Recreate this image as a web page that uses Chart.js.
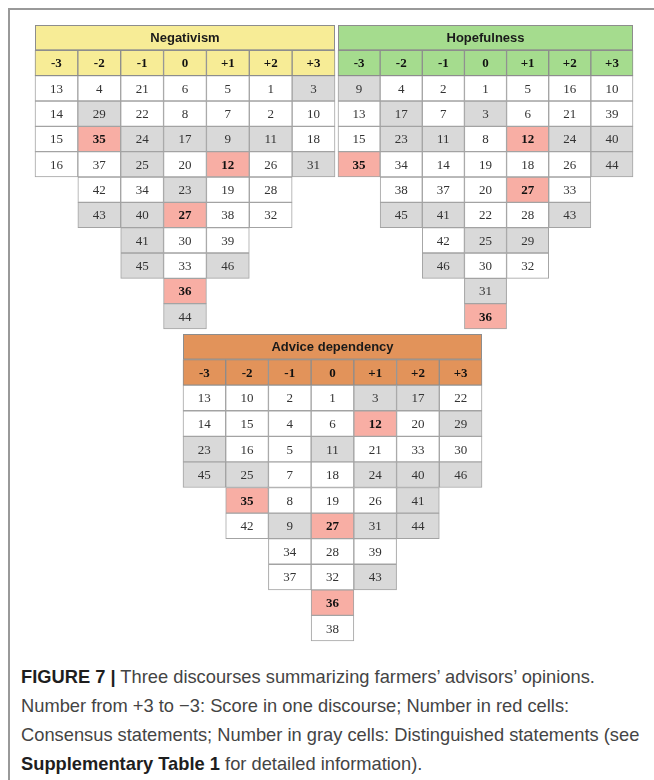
<!DOCTYPE html>
<html>
<head>
<meta charset="utf-8">
<script src="https://cdn.jsdelivr.net/npm/chart.js@4.4.1/dist/chart.umd.min.js"></script>
<style>
  body { margin: 0; background: #fff; }
  #page { position: relative; width: 654px; height: 780px; overflow: hidden; }
  #frame { position: absolute; left: 8px; top: 8px; width: 660px; height: 800px;
           border-left: 2px solid #999; border-top: 2px solid #999; }
  canvas { position: absolute; }
  #caption { position: absolute; left: 21px; top: 662px; width: 660px;
             font-family: "Liberation Sans", Arial, sans-serif; font-size: 19px;
             line-height: 29px; color: #444; white-space: nowrap;
             transform: scaleX(0.963); transform-origin: left top; }
  #caption b { color: #1e1e1e; }
</style>
</head>
<body>
<div id="page">
  <div id="frame"></div>
  <canvas id="neg" width="304" height="308" style="left:33px;top:23px"></canvas>
  <canvas id="hope" width="299" height="308" style="left:336px;top:23px"></canvas>
  <canvas id="advice" width="303" height="311" style="left:181px;top:332px"></canvas>
  <div id="caption">
    <b>FIGURE 7 |</b> Three discourses summarizing farmers’ advisors’ opinions.<br>
    Number from +3 to −3: Score in one discourse; Number in red cells:<br>
    Consensus statements; Number in gray cells: Distinguished statements (see<br>
    <b>Supplementary Table 1</b> for detailed information).
  </div>
</div>
<script>
// score columns
const scores = ["-3", "-2", "-1", "0", "+1", "+2", "+3"]

// statements placed in each column, top to bottom
const negativismCols = [
  [13, 14, 15, 16],
  [4, 29, 35, 37, 42, 43],
  [21, 22, 24, 25, 34, 40, 41, 45],
  [6, 8, 17, 20, 23, 27, 30, 33, 36, 44],
  [5, 7, 9, 12, 19, 38, 39, 46],
  [1, 2, 11, 26, 28, 32],
  [3, 10, 18, 31],
]
const hopefulnessCols = [
  [9, 13, 15, 35],
  [4, 17, 23, 34, 38, 45],
  [2, 7, 11, 14, 37, 41, 42, 46],
  [1, 3, 8, 19, 20, 22, 25, 30, 31, 36],
  [5, 6, 12, 18, 27, 28, 29, 32],
  [16, 21, 24, 26, 33, 43],
  [10, 39, 40, 44],
]
const adviceCols = [
  [13, 14, 23, 45],
  [10, 15, 16, 25, 35, 42],
  [2, 4, 5, 7, 8, 9, 34, 37],
  [1, 6, 11, 18, 19, 27, 28, 32, 36, 38],
  [3, 12, 21, 24, 26, 31, 39, 43],
  [17, 20, 33, 40, 41, 44],
  [22, 29, 30, 46],
]

// consensus statements (red) and distinguished statements (gray)
const consensus = [12, 27, 35, 36]
const negativismGray = [3, 29, 24, 17, 9, 11, 25, 31, 23, 43, 40, 41, 45, 46, 44]
const hopefulnessGray = [9, 17, 3, 23, 11, 24, 40, 44, 45, 41, 43, 25, 29, 46, 31]
const adviceGray = [3, 17, 29, 23, 11, 45, 25, 24, 40, 46, 41, 9, 31, 44, 43]

const RED = "#f8aea4"
const GRAY = "#d9d9d9"
const CELL_BORDER = "#a3a3a3"

// dibuja numeros, titulo y encabezados
const tableText = {
  id: "tableText",
  beforeDatasetsDraw(chart, args, opts) {
    const { ctx } = chart
    const x = chart.scales.x
    const y = chart.scales.y
    const top = y.getPixelForValue(-2)
    const bottom = y.getPixelForValue(-1)
    ctx.save()
    ctx.fillStyle = opts.color
    ctx.fillRect(x.left, top, x.right - x.left, bottom - top)
    ctx.strokeStyle = "#8d8d8d"
    ctx.lineWidth = 1
    ctx.strokeRect(x.left + 0.5, top + 0.5, x.right - x.left - 1, bottom - top - 1)
    ctx.restore()
  },
  afterDatasetsDraw(chart, args, opts) {
    const { ctx } = chart
    const x = chart.scales.x
    const y = chart.scales.y
    ctx.save()
    ctx.textAlign = "center"
    ctx.textBaseline = "middle"
    ctx.fillStyle = "#1a1a1a"
    ctx.font = "bold 13px 'Liberation Sans', Arial, sans-serif"
    ctx.fillText(opts.title, (x.left + x.right) / 2, y.getPixelForValue(-1.5) + 1)

    chart.data.datasets.forEach((ds, i) => {
      const meta = chart.getDatasetMeta(i)
      meta.data.forEach((bar, c) => {
        if (!ds.data[c]) return
        const p = bar.getCenterPoint()
        const label = ds.labels[c]
        const bold = ds.header || consensus.includes(label)
        ctx.font = (bold ? "bold " : "") + "13px 'Liberation Serif', 'Times New Roman', serif"
        ctx.fillStyle = bold ? "#111" : "#333"
        ctx.fillText(String(label), p.x, p.y + 1)
      })
    })
    ctx.restore()
  },
}

function buildChart(id, title, headColor, cols, grayList) {
  const rows = Math.max(...cols.map((c) => c.length))
  const datasets = [
    {
      header: true,
      labels: scores,
      data: scores.map(() => [-1, 0]),
      backgroundColor: headColor,
      borderColor: "#8d8d8d",
    },
  ]
  for (let r = 0; r < rows; r++) {
    datasets.push({
      labels: cols.map((c) => c[r]),
      data: cols.map((c) => (c.length > r ? [r, r + 1] : null)),
      backgroundColor: cols.map((c) => {
        const n = c[r]
        if (consensus.includes(n)) return RED
        if (grayList.includes(n)) return GRAY
        return "#ffffff"
      }),
      borderColor: CELL_BORDER,
    })
  }
  datasets.forEach((ds) => {
    ds.borderWidth = 1
    ds.borderSkipped = false
    ds.grouped = false
    ds.barPercentage = 1
    ds.categoryPercentage = 1
    ds.clip = false
  })

  return new Chart(document.getElementById(id), {
    type: "bar",
    data: { labels: scores, datasets },
    options: {
      responsive: false,
      animation: false,
      devicePixelRatio: 1,
      layout: { padding: 2 },
      plugins: {
        legend: { display: false },
        tooltip: { enabled: false },
        tableText: { title, color: headColor },
      },
      scales: {
        x: { display: false, offset: true },
        y: { display: false, min: -2, max: 10, reverse: true },
      },
    },
    plugins: [tableText],
  })
}

buildChart("neg", "Negativism", "#f7ec96", negativismCols, negativismGray)
buildChart("hope", "Hopefulness", "#a5dc8e", hopefulnessCols, hopefulnessGray)
buildChart("advice", "Advice dependency", "#e2935a", adviceCols, adviceGray)
</script>
</body>
</html>
